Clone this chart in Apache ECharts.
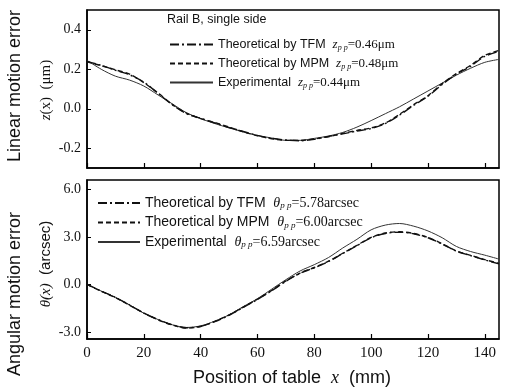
<!DOCTYPE html>
<html>
<head>
<meta charset="utf-8">
<script src="https://cdn.jsdelivr.net/npm/echarts@6/dist/echarts.min.js"></script>
<style>
  html, body { margin: 0; padding: 0; background: #fff; }
  #chart { width: 506px; height: 388px; }
</style>
</head>
<body>
<div id="chart"></div>
<script>
// table position (mm)
const positions = [0, 5, 10, 15, 20, 25, 30, 35, 40, 45, 50, 55, 60, 65, 70,
  75, 80, 85, 90, 95, 100, 105, 110, 115, 120, 125, 130, 135, 140, 145];

// linear motion error z(x), um
const zTfm = [0.24, 0.22, 0.195, 0.172, 0.135, 0.078, 0.02, -0.025, -0.048, -0.072,
  -0.095, -0.115, -0.135, -0.15, -0.158, -0.162, -0.155, -0.14, -0.127, -0.113,
  -0.1, -0.075, -0.032, 0.018, 0.063, 0.123, 0.175, 0.215, 0.265, 0.29];
const zMpm = [0.238, 0.218, 0.197, 0.175, 0.132, 0.08, 0.022, -0.022, -0.05, -0.07,
  -0.093, -0.117, -0.137, -0.152, -0.16, -0.16, -0.153, -0.142, -0.125, -0.11,
  -0.097, -0.072, -0.028, 0.021, 0.066, 0.127, 0.178, 0.22, 0.27, 0.295];
const zExp = [0.245, 0.2, 0.165, 0.145, 0.115, 0.07, 0.025, -0.02, -0.05, -0.075,
  -0.097, -0.117, -0.135, -0.148, -0.16, -0.16, -0.15, -0.138, -0.12, -0.093,
  -0.06, -0.025, 0.01, 0.05, 0.09, 0.13, 0.17, 0.205, 0.235, 0.25];

// angular motion error theta(x), arcsec
const thetaTfm = [0, -0.42, -0.82, -1.3, -1.82, -2.22, -2.55, -2.74, -2.65, -2.35,
  -1.95, -1.45, -0.95, -0.4, 0.2, 0.7, 1.05, 1.45, 1.95, 2.45,
  2.95, 3.22, 3.3, 3.2, 2.95, 2.55, 2.1, 1.82, 1.55, 1.3];
const thetaMpm = [0, -0.43, -0.84, -1.32, -1.8, -2.24, -2.57, -2.76, -2.66, -2.33,
  -1.93, -1.44, -0.93, -0.38, 0.22, 0.72, 1.07, 1.47, 1.97, 2.47,
  2.97, 3.25, 3.33, 3.22, 2.97, 2.57, 2.12, 1.84, 1.57, 1.33];
const thetaExp = [0, -0.42, -0.82, -1.3, -1.82, -2.22, -2.55, -2.72, -2.62, -2.32,
  -1.92, -1.4, -0.9, -0.3, 0.3, 0.85, 1.25, 1.7, 2.3, 2.85,
  3.45, 3.75, 3.85, 3.68, 3.38, 2.95, 2.4, 2.08, 1.85, 1.6];

const xTicks = [0, 20, 40, 60, 80, 100, 120, 140];
const zTicks = [-0.2, 0, 0.2, 0.4];
const thetaTicks = [-3, 0, 3, 6];

const SANS = 'Liberation Sans';
const SERIF = 'Liberation Serif';

const chart = echarts.init(document.getElementById('chart'));

const pairs = vals => positions.map((x, i) => [x, vals[i]]);

const legendText = {
  zTFM: 'Theoretical by TFM  {m|z}{s|p p}{n|=0.46μm}',
  zMPM: 'Theoretical by MPM  {m|z}{s|p p}{n|=0.48μm}',
  zEXP: 'Experimental  {m|z}{s|p p}{n|=0.44μm}',
  tTFM: 'Theoretical by TFM  {M|θ}{S|p p}{N|=5.78arcsec}',
  tMPM: 'Theoretical by MPM  {M|θ}{S|p p}{N|=6.00arcsec}',
  tEXP: 'Experimental  {M|θ}{S|p p}{N|=6.59arcsec}'
};

const rich = {
  m: { fontFamily: SERIF, fontStyle: 'italic', fontSize: 13, color: '#111' },
  s: { fontFamily: SERIF, fontStyle: 'italic', fontSize: 8, color: '#111', padding: [6, 0, 0, 0] },
  n: { fontFamily: SERIF, fontSize: 13, color: '#111' },
  M: { fontFamily: SERIF, fontStyle: 'italic', fontSize: 14, color: '#111' },
  S: { fontFamily: SERIF, fontStyle: 'italic', fontSize: 9, color: '#111', padding: [6, 0, 0, 0] },
  N: { fontFamily: SERIF, fontSize: 14, color: '#111' }
};

const dashTfm = [9, 3, 2, 3];
const dashMpm = [5, 3];

function line(name, data, xi, dash, width, color) {
  return {
    name: name,
    type: 'line',
    xAxisIndex: xi,
    yAxisIndex: xi,
    data: data,
    symbol: 'none',
    smooth: 0.3,
    itemStyle: { color: color },
    lineStyle: { color: color, width: width, type: dash },
    z: dash === 'solid' ? 3 : 4
  };
}

const yLabel = {
  fontFamily: SERIF, fontSize: 14, color: '#111', margin: 6
};

const option = {
  animation: false,
  grid: [
    { left: 87, top: 10, right: 7, height: 158, show: true, borderColor: '#000', borderWidth: 1.5 },
    { left: 87, top: 180, right: 7, height: 159, show: true, borderColor: '#000', borderWidth: 1.5 }
  ],
  xAxis: [0, 1].map(i => ({
    type: 'value',
    gridIndex: i,
    min: 0,
    max: 145,
    axisLine: { show: true, onZero: false, lineStyle: { color: '#000', width: 1.5 } },
    axisTick: { show: true, inside: true, length: 5, customValues: xTicks, lineStyle: { color: '#000', width: 1.2 } },
    axisLabel: {
      show: i === 1, customValues: xTicks,
      fontFamily: SERIF, fontSize: 15, color: '#111', margin: 7
    },
    splitLine: { show: false }
  })),
  yAxis: [
    {
      type: 'value', gridIndex: 0, min: -0.3, max: 0.5,
      axisLine: { show: true, onZero: false, lineStyle: { color: '#000', width: 1.5 } },
      axisTick: { show: true, inside: true, length: 4, customValues: zTicks, lineStyle: { color: '#000' } },
      axisLabel: Object.assign({ customValues: zTicks, formatter: v => v.toFixed(1) }, yLabel),
      splitLine: { show: false }
    },
    {
      type: 'value', gridIndex: 1, min: -3.45, max: 6.6,
      axisLine: { show: true, onZero: false, lineStyle: { color: '#000', width: 1.5 } },
      axisTick: { show: true, inside: true, length: 4, customValues: thetaTicks, lineStyle: { color: '#000' } },
      axisLabel: Object.assign({ customValues: thetaTicks, formatter: v => v.toFixed(1) }, yLabel),
      splitLine: { show: false }
    }
  ],
  legend: [
    {
      data: ['zTFM', 'zMPM', 'zEXP'],
      orient: 'vertical',
      left: 164, top: 33,
      itemWidth: 43, itemHeight: 14, itemGap: 5.5,
      itemStyle: { opacity: 0 },
      formatter: n => legendText[n],
      textStyle: { fontFamily: SANS, fontSize: 12.5, color: '#111', rich: rich }
    },
    {
      data: ['tTFM', 'tMPM', 'tEXP'],
      orient: 'vertical',
      left: 92, top: 191,
      itemWidth: 42, itemHeight: 14, itemGap: 5,
      itemStyle: { opacity: 0 },
      formatter: n => legendText[n],
      textStyle: { fontFamily: SANS, fontSize: 14, color: '#111', rich: rich }
    }
  ],
  graphic: [
    {
      type: 'text', left: 167, top: 13,
      style: { text: 'Rail B, single side', fontFamily: SANS, fontSize: 12.5, fill: '#111' }
    },
    {
      type: 'text', x: 15, y: 86, rotation: Math.PI / 2,
      style: { text: 'Linear motion error', fontFamily: SANS, fontSize: 18, fill: '#111', align: 'center', verticalAlign: 'middle' }
    },
    {
      type: 'text', x: 46, y: 90, rotation: Math.PI / 2,
      style: {
        text: '{i|z}(x)  (μm)', fontFamily: SERIF, fontSize: 15, fill: '#111', align: 'center', verticalAlign: 'middle',
        rich: { i: { fontFamily: SERIF, fontStyle: 'italic', fontSize: 15, fill: '#111' } }
      }
    },
    {
      type: 'text', x: 15, y: 294, rotation: Math.PI / 2,
      style: { text: 'Angular motion error', fontFamily: SANS, fontSize: 18, fill: '#111', align: 'center', verticalAlign: 'middle' }
    },
    {
      type: 'text', x: 46, y: 264, rotation: Math.PI / 2,
      style: {
        text: '{i|θ(x)}  (arcsec)', fontFamily: SANS, fontSize: 15, fill: '#111', align: 'center', verticalAlign: 'middle',
        rich: { i: { fontFamily: SERIF, fontStyle: 'italic', fontSize: 15, fill: '#111' } }
      }
    },
    {
      type: 'text', x: 292, y: 378,
      style: {
        text: 'Position of table  {i|x}  (mm)', fontFamily: SANS, fontSize: 18, fill: '#111', align: 'center', verticalAlign: 'middle',
        rich: { i: { fontFamily: SERIF, fontStyle: 'italic', fontSize: 18, fill: '#111' } }
      }
    }
  ],
  series: [
    line('zTFM', pairs(zTfm), 0, dashTfm, 1.4, '#111'),
    line('zMPM', pairs(zMpm), 0, dashMpm, 1.4, '#111'),
    line('zEXP', pairs(zExp), 0, 'solid', 1, '#333'),
    line('tTFM', pairs(thetaTfm), 1, dashTfm, 1.4, '#111'),
    line('tMPM', pairs(thetaMpm), 1, dashMpm, 1.4, '#111'),
    line('tEXP', pairs(thetaExp), 1, 'solid', 1, '#333')
  ]
};

chart.setOption(option);
window.addEventListener('resize', () => chart.resize());
</script>
</body>
</html>
